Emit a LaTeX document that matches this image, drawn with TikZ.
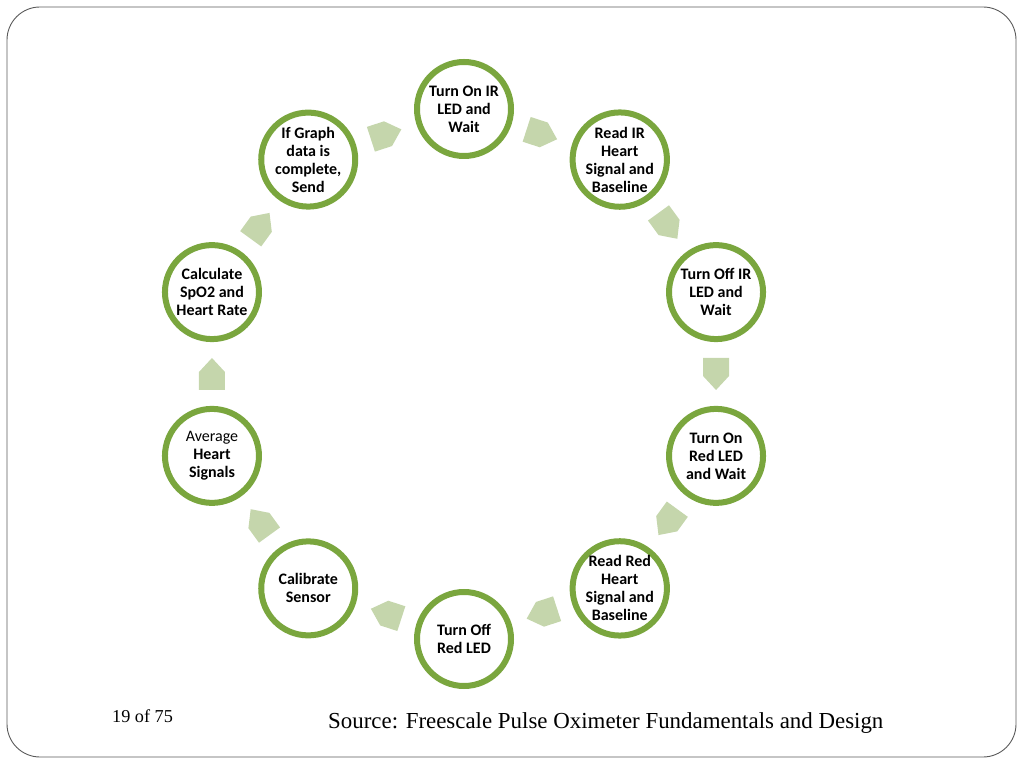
\documentclass[tikz,border=0pt]{standalone}
\usepackage{fontspec}
\setmainfont{Liberation Serif}
\newfontfamily\stepfont{Carlito}
\usetikzlibrary{calc}
\definecolor{ringgreen}{RGB}{122,166,62}
\definecolor{arrowgreen}{RGB}{197,214,172}
\definecolor{framegray}{RGB}{90,90,90}
\begin{document}
\begin{tikzpicture}[x=1pt,y=1pt,
  stepcircle/.style={circle, draw=ringgreen, line width=6pt, fill=white,
    minimum size=94pt, inner sep=0pt, align=center,
    font=\stepfont\bfseries\fontsize{16}{18}\selectfont},
  flowarrow/.style={fill=arrowgreen},
  framebox/.style={draw=framegray, line width=0.9pt, rounded corners=33pt}]
\useasboundingbox (0,0) rectangle (1024,768);
\draw[framebox] (7,11) rectangle (1016,761);
\coordinate (c) at (464,394);
\node[stepcircle] (n1) at ($(c)+(90:265)$) {Turn On IR\\LED and\\Wait};
\node[stepcircle] (n2) at ($(c)+(54:265)$) {Read IR\\Heart\\Signal and\\Baseline};
\node[stepcircle] (n3) at ($(c)+(18:265)$) {Turn Off IR\\LED and\\Wait};
\node[stepcircle] (n4) at ($(c)+(-18:265)$) {Turn On\\Red LED\\and Wait};
\node[stepcircle] (n5) at ($(c)+(-54:265)$) {Read Red\\Heart\\Signal and\\Baseline};
\node[stepcircle] (n6) at ($(c)+(-90:265)$) {Turn Off\\Red LED};
\node[stepcircle] (n7) at ($(c)+(-126:265)$) {Calibrate\\Sensor};
\node[stepcircle] (n8) at ($(c)+(-162:265)$) {{\mdseries Average}\\Heart\\Signals};
\node[stepcircle] (n9) at ($(c)+(162:265)$) {Calculate\\SpO2 and\\Heart Rate};
\node[stepcircle] (n10) at ($(c)+(126:265)$) {If Graph\\data is\\complete,\\Send};
\foreach \a/\b/\r in {1/2/-18, 2/3/-54, 3/4/-90, 4/5/-126, 5/6/-162, 6/7/-198, 7/8/-234, 8/9/-270, 9/10/-306, 10/1/-342}{
  \coordinate (m\a) at ($(n\a)!0.5!(n\b)$);
  \begin{scope}[shift={(m\a)}, rotate=\r]
    \fill[flowarrow] (-16,-13) -- (2,-13) -- (16,0) -- (2,13) -- (-16,13) -- cycle;
  \end{scope}
}
\node[font=\fontsize{18.2}{21}\selectfont, anchor=base west, inner sep=0pt] (pg) at (112,46) {19 of 75};
\node[font=\fontsize{22.9}{27}\selectfont, anchor=base west, inner sep=0pt] (src) at (328,40) {Source: Freescale Pulse Oximeter Fundamentals and Design};
\end{tikzpicture}
\end{document}
